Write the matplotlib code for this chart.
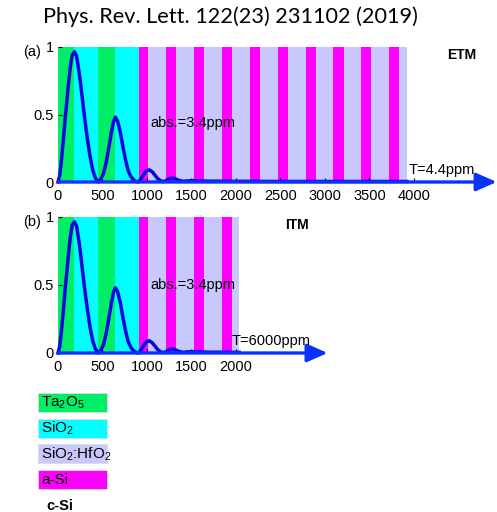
import matplotlib.pyplot as plt
from matplotlib.patches import Rectangle

plt.rcParams['font.family'] = ['Liberation Sans', 'DejaVu Sans']
plt.rcParams['mathtext.default'] = 'regular'

# coating stacks, from the surface down (thickness in nm)
etm_materials = ['Ta2O5', 'SiO2', 'Ta2O5', 'SiO2'] + ['a-Si', 'SiO2:HfO2'] * 10
etm_thickness = [180, 275, 180, 270, 110, 200, 115, 200, 115, 200, 115, 200,
                 115, 200, 115, 195, 115, 195, 115, 195, 115, 200, 115, 85]
itm_materials = ['Ta2O5', 'SiO2', 'Ta2O5', 'SiO2'] + ['a-Si', 'SiO2:HfO2'] * 4
itm_thickness = [180, 275, 180, 270, 110, 200, 115, 200, 115, 200, 115, 75]

# normalised field intensity vs depth
depth = [0, 20, 40, 60, 80, 100, 120, 140, 160, 185, 210, 240, 270, 300, 330,
         360, 390, 420, 453, 480, 510, 540, 570, 600, 625, 645, 670, 700, 730,
         760, 790, 820, 850, 880, 903, 930, 960, 990, 1025, 1060, 1090, 1120,
         1150, 1185, 1215, 1245, 1280, 1315, 1350, 1400, 1450, 1520, 1600, 1700,
         1800, 1900, 2035, 2500, 3000, 3500, 3920]
intensity = [0.0, 0.05, 0.17, 0.31, 0.47, 0.60, 0.74, 0.86, 0.94, 0.965, 0.93,
             0.80, 0.64, 0.47, 0.32, 0.19, 0.09, 0.03, 0.0, 0.02, 0.06, 0.14,
             0.25, 0.37, 0.45, 0.48, 0.45, 0.37, 0.26, 0.16, 0.08, 0.04, 0.015,
             0.003, 0.0, 0.02, 0.05, 0.08, 0.09, 0.075, 0.05, 0.025, 0.01, 0.003,
             0.01, 0.022, 0.03, 0.025, 0.014, 0.005, 0.008, 0.01, 0.008, 0.006,
             0.006, 0.005, 0.005, 0.004, 0.004, 0.004, 0.004]

colors = {'Ta2O5': '#00ee66', 'SiO2': '#00ffff',
          'SiO2:HfO2': '#c8c8fc', 'a-Si': '#ff00ff', 'c-Si': 'white'}
legend_keys = ['Ta2O5', 'SiO2', 'SiO2:HfO2', 'a-Si', 'c-Si']
legend_labels = ['Ta$_2$O$_5$', 'SiO$_2$', 'SiO$_2$:HfO$_2$', 'a-Si', 'c-Si']

panels = [
    dict(tag='(a)', name='ETM', T='T=4.4ppm', mats=etm_materials,
         thick=etm_thickness, ticks=range(0, 4001, 500),
         rect=[58/497, 330/512, 422/497, 135/512], xmax=4742, tip=4930,
         T_x=3935, abs_y=0.44, name_x=4540),
    dict(tag='(b)', name='ITM', T='T=6000ppm', mats=itm_materials,
         thick=itm_thickness, ticks=range(0, 2001, 500),
         rect=[58/497, 159/512, 254/497, 136/512], xmax=2854, tip=3030,
         T_x=1955, abs_y=0.50, name_x=2685),
]

fig = plt.figure(figsize=(4.97, 5.12), dpi=100)

for p in panels:
    ax = fig.add_axes(p['rect'])
    z = 0
    for m, t in zip(p['mats'], p['thick']):
        ax.axvspan(z, z + t, color=colors[m], lw=0, zorder=1)
        z += t
    xs = [d for d in depth if d <= z]
    ys = intensity[:len(xs)]
    ax.plot(xs, ys, color='#0808dc', lw=2.5, zorder=3, clip_on=False,
            solid_joinstyle='round')
    ax.annotate('', xy=(p['tip'], 0), xytext=(0, 0), annotation_clip=False,
                arrowprops=dict(arrowstyle='-|>,head_length=1.25,head_width=0.55',
                                color='#0a32ff', lw=2.4, shrinkA=0, shrinkB=0,
                                mutation_scale=10), zorder=4)
    ax.set_xlim(0, p['xmax'])
    ax.set_ylim(0, 1)
    ax.set_xticks(list(p['ticks']))
    ax.set_yticks([0, 0.5, 1])
    ax.set_yticklabels(['0', '0.5', '1'])
    ax.tick_params(direction='in', length=3, width=0.8, labelsize=10.5)
    ax.tick_params(axis='x', pad=5)
    ax.tick_params(axis='y', pad=3)
    for s in ax.spines.values():
        s.set_visible(False)
    ax.text(1034, p['abs_y'], 'abs.=3.4ppm', fontsize=10.5, va='center', zorder=5)
    ax.text(p['T_x'], 0.035, p['T'], fontsize=10.5, va='bottom', zorder=5)
    ax.text(p['name_x'], 0.94, p['name'], fontsize=10, fontweight='bold',
            ha='center', va='center')
    ax.text(-26 / (p['rect'][2] * 497), 0.96, p['tag'], fontsize=10.5,
            transform=ax.transAxes, ha='center', va='center')

fig.text(0.463, 0.967, 'Phys. Rev. Lett. 122(23) 231102 (2019)',
         family='Lato', fontsize=15.6, ha='center', va='center')

# material key
lg = fig.add_axes([0, 0, 1, 1])
lg.set_xlim(0, 497)
lg.set_ylim(512, 0)
lg.axis('off')
for i, (k, lab) in enumerate(zip(legend_keys, legend_labels)):
    y0 = 393 + i * 25.5
    if k != 'c-Si':
        lg.add_patch(Rectangle((38, y0), 69, 19, facecolor=colors[k],
                               edgecolor='#dcdcdc', lw=0.6))
        lg.text(41, y0 + 10, lab, fontsize=11, va='center')
    else:
        lg.text(46, y0 + 11, lab, fontsize=10.5, va='center', fontweight='bold')

fig.savefig('out.png', dpi=100)
